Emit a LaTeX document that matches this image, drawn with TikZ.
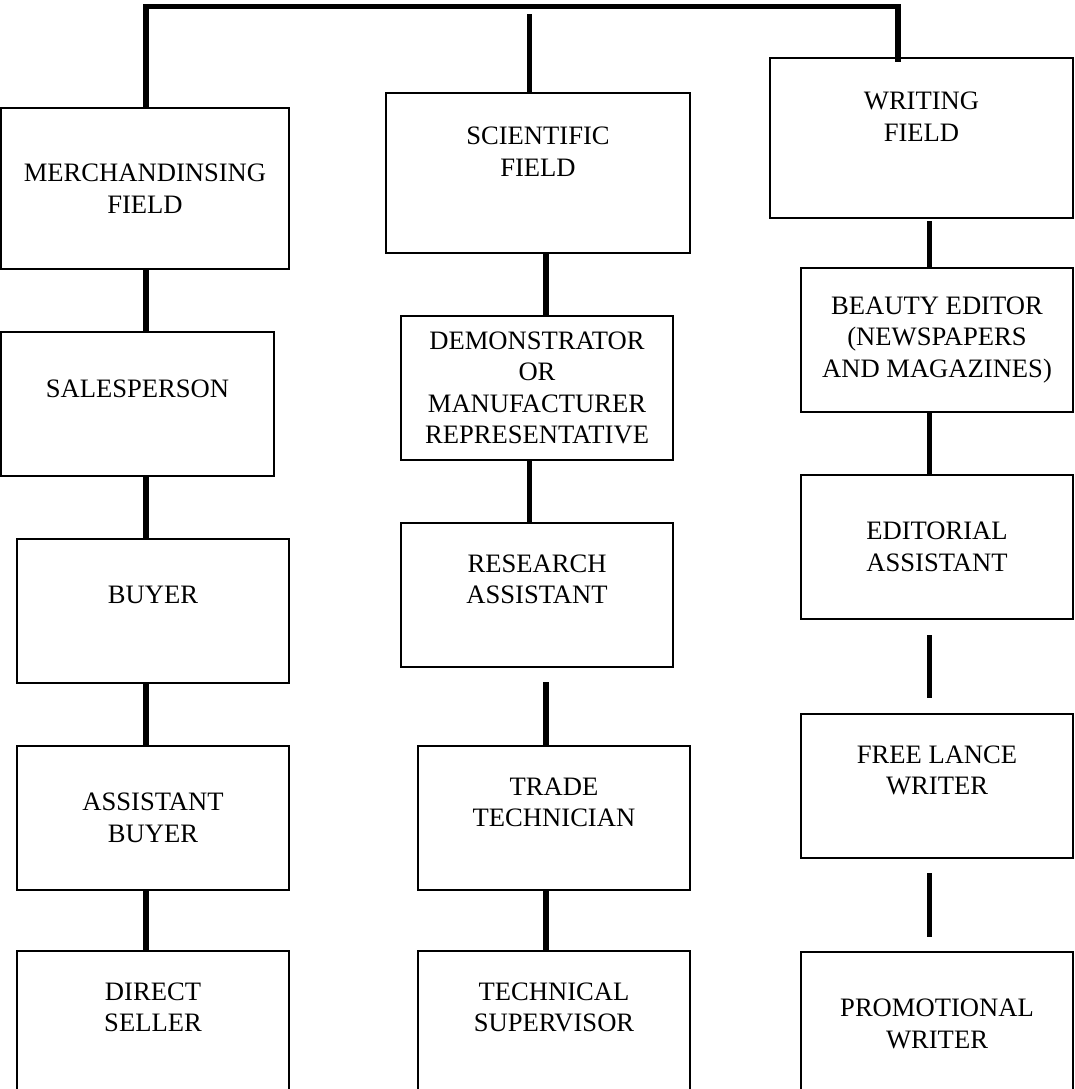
\documentclass[tikz,border=0pt]{standalone}
\usepackage{fontspec}
\setmainfont{Liberation Serif}

\begin{document}
\begin{tikzpicture}[x=1pt, y=-1pt,
    job/.style={draw, line width=2pt, outer sep=0pt, inner sep=0pt, anchor=north west,
        align=center, minimum width=272pt, minimum height=144pt,
        font=\fontsize{26.6}{31.5}\selectfont},
    link/.style={line width=5.5pt}]
        \useasboundingbox (0,0) rectangle (1074,1089);

        \node[job, minimum width=288pt, minimum height=161pt] at (1,108)   (merch) {MERCHANDINSING\\FIELD};
        \node[job, minimum width=304pt, minimum height=160pt] at (386,93)  (sci)   {SCIENTIFIC\\FIELD\\[11pt]\mbox{}};
        \node[job, minimum width=303pt, minimum height=160pt] at (770,58)  (writ)  {WRITING\\FIELD\\[11pt]\mbox{}};

        \node[job, minimum width=273pt] at (1,332)   (sales)    {SALESPERSON\\ \mbox{}};
        \node[job] at (17,539)  (buyer)    {BUYER\\ \mbox{}};
        \node[job] at (17,746)  (abuyer)   {ASSISTANT\\BUYER};
        \node[job] at (17,951)  (direct)   {DIRECT\\SELLER\\ \mbox{}};

        \node[job] at (401,316) (demo)     {DEMONSTRATOR\\OR\\MANUFACTURER\\REPRESENTATIVE};
        \node[job] at (401,523) (research) {RESEARCH\\ASSISTANT\\ \mbox{}};
        \node[job] at (418,746) (trade)    {TRADE\\TECHNICIAN\\ \mbox{}};
        \node[job] at (418,951) (tech)     {TECHNICAL\\SUPERVISOR\\ \mbox{}};

        \node[job] at (801,268) (beauty)   {BEAUTY EDITOR\\(NEWSPAPERS\\AND MAGAZINES)};
        \node[job] at (801,475) (edit)     {EDITORIAL\\ASSISTANT};
        \node[job] at (801,714) (free)     {FREE LANCE\\WRITER\\ \mbox{}};
        \node[job] at (801,952) (promo)    {PROMOTIONAL\\WRITER};

        % columns of the connectors
        \coordinate (m)   at (146,0);
        \coordinate (s1)  at (529.5,0);
        \coordinate (s2)  at (546,0);
        \coordinate (w1)  at (898,0);
        \coordinate (w2)  at (929.5,0);
        \coordinate (bar) at (0,6.5);

        \draw[link] (merch.north -| m) |- (w1 |- bar) -- (writ.north -| w1) -- ++(0,4);
        \draw[link, shorten >=7.5pt] (sci.north -| s1) -- (s1 |- bar);

        \draw[link] (merch.south -| m) -- (sales.north -| m);
        \draw[link] (sales.south -| m) -- (buyer.north -| m);
        \draw[link] (buyer.south -| m) -- (abuyer.north -| m);
        \draw[link] (abuyer.south -| m) -- (direct.north -| m);

        \draw[link] (sci.south -| s2) -- (demo.north -| s2);
        \draw[link] (demo.south -| s1) -- (research.north -| s1);
        \draw[link, shorten <=15pt] (research.south -| s2) -- (trade.north -| s2);
        \draw[link] (trade.south -| s2) -- (tech.north -| s2);

        \draw[link, shorten <=3pt] (writ.south -| w2) -- (beauty.north -| w2);
        \draw[link] (beauty.south -| w2) -- (edit.north -| w2);
        \draw[link, shorten <=16pt, shorten >=16pt] (edit.south -| w2) -- (free.north -| w2);
        \draw[link, shorten <=15pt, shorten >=15pt] (free.south -| w2) -- (promo.north -| w2);
    \end{tikzpicture}
\end{document}
